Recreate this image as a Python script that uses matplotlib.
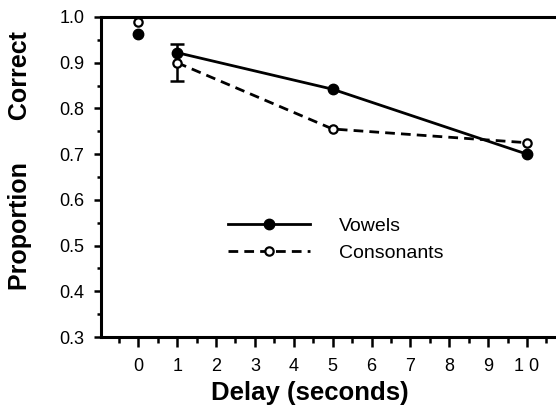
import matplotlib
matplotlib.use("Agg")
import matplotlib.pyplot as plt
from matplotlib.ticker import MultipleLocator
from matplotlib.lines import Line2D

plt.rcParams['font.family'] = ['Liberation Sans', 'DejaVu Sans']

delays = [0, 1, 5, 10]
vowels = [0.963, 0.922, 0.842, 0.700]
consonants = [0.990, 0.900, 0.755, 0.725]
cons_err_x = [1]
cons_err_y = [0.900]
cons_err = [0.040]
xticks = list(range(0, 11))
yticks = [0.3, 0.4, 0.5, 0.6, 0.7, 0.8, 0.9, 1.0]

W, H = 556, 409
fig = plt.figure(figsize=(W / 100, H / 100), dpi=100)
ax = fig.add_axes([101 / W, 1 - 337 / H, 1 - 101 / W + 0.01, (337 - 17) / H])

DASH = (0, (3.5, 2.2))
# connected segments (delays 1..10)
ax.plot(delays[1:], vowels[1:], color='black', lw=2, marker='o', ms=7.5,
        mfc='black', mec='black', zorder=3)
ax.plot(delays[1:], consonants[1:], color='black', lw=2, ls=DASH,
        marker='o', ms=6, mfc='white', mec='black', mew=1.6, zorder=4)
# isolated points at delay 0
ax.plot(delays[:1], vowels[:1], ls='none', marker='o', ms=7.5, mfc='black',
        mec='black', zorder=3)
ax.plot(delays[:1], consonants[:1], ls='none', marker='o', ms=6, mfc='white',
        mec='black', mew=1.6, zorder=4)
ax.errorbar(cons_err_x, cons_err_y, yerr=cons_err, fmt='none', ecolor='black',
            elinewidth=1.8, capsize=5, capthick=1.8, zorder=2)

ax.set_xlim(-0.96, 10.89)
ax.set_ylim(0.3, 1.0)
ax.set_xticks(xticks)
ax.set_xticklabels([str(t) if t < 10 else '1 0' for t in xticks])
ax.xaxis.set_minor_locator(MultipleLocator(0.5))
ax.set_yticks(yticks)
ax.set_yticklabels([f"{t:.1f}" for t in yticks])
ax.yaxis.set_minor_locator(MultipleLocator(0.05))

ax.spines['right'].set_visible(False)
for s in ['left', 'top', 'bottom']:
    ax.spines[s].set_linewidth(2.2)
ax.tick_params(axis='both', which='major', direction='out', width=1.8,
               labelsize=13)
ax.tick_params(axis='x', which='major', length=7, pad=8)
ax.tick_params(axis='y', which='major', length=5, pad=7)
ax.tick_params(axis='x', which='minor', direction='out', length=4, width=1.8)
ax.tick_params(axis='y', which='minor', direction='out', length=3, width=1.8)

fig.text(310 / W, 1 - 393 / H, 'Delay (seconds)', ha='center', va='center',
         fontsize=18.5, fontweight='bold')
fig.text(20 / W, 1 - 161 / H, 'Proportion      Correct', ha='center',
         va='center', rotation=90, fontsize=18, fontweight='bold')

handles = [
    Line2D([], [], color='black', lw=2, marker='o', ms=7.5, mfc='black'),
    Line2D([], [], color='black', lw=2, ls=DASH, marker='o', ms=6,
           mfc='white', mew=1.6),
]
ax.legend(handles, ['Vowels', 'Consonants'], loc='upper left',
          bbox_to_anchor=(228 / W, 1 - 217 / H), bbox_transform=fig.transFigure,
          frameon=False, borderpad=0, borderaxespad=0, numpoints=1,
          handlelength=4.2, handletextpad=1.5, labelspacing=0.5, fontsize=14)

fig.savefig('out.png', dpi=100)
